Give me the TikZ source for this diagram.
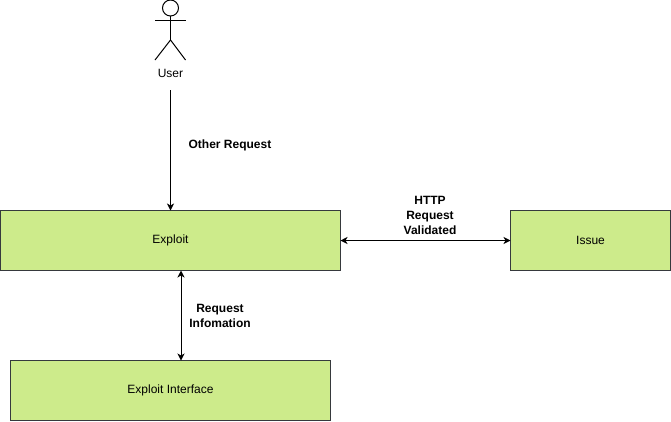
\documentclass[tikz,border=0pt]{standalone}
\usepackage{fontspec}
\setmainfont{Liberation Sans}
\usepackage{xcolor}
\usetikzlibrary{arrows.meta,calc,positioning}
\definecolor{boxfill}{HTML}{CDEB8B}
\definecolor{boxline}{HTML}{36393D}
\tikzset{
	usecase diagram/.style={
		x=1pt, y=-1pt,
		line width=1pt,
		font=\fontsize{12}{15}\selectfont,
		>={Stealth[length=7pt,width=7pt,inset=2pt]},
		node distance=170pt},
	block/.style={draw=boxline, fill=boxfill, minimum height=60pt, outer sep=0pt, inner sep=0pt},
	wire label/.style={font=\fontsize{12}{15}\selectfont\bfseries, align=center, inner sep=0pt}
}

\begin{document}
\begin{tikzpicture}[usecase diagram]
    \useasboundingbox (0,0) rectangle (671,421);
    \node[block, minimum width=340pt, anchor=north west] (Exploit) at (0.5,210.5) {Exploit};
    \node[block, minimum width=160pt, right=of Exploit] (Issue) {Issue};
    \node[block, minimum width=320pt, below=90pt of Exploit] (Interface) {Exploit Interface};
    % stick figure
    \draw (170.5,8) circle[radius=8];
    \draw (155,20) -- (185.5,20);
    \draw (170.5,16) -- (170.5,40);
    \draw (155,60) -- (170.5,40) -- (185.5,60);
    \node[inner sep=0pt] (User) at (170.5,73.5) {User};
    \coordinate[below=12pt of User] (UserOut);
    \draw[->] (UserOut) -- (Exploit.north);
    \draw[<->] (Exploit.east) -- (Issue.west);
    \draw[<->] ([xshift=10.5pt]Exploit.south) -- ([xshift=10.5pt]Interface.north);
    \node[wire label] (OtherLbl) at (230,145.5) {Other Request};
    \node[wire label] (HttpLbl) at (430,215) {HTTP\\Request\\Validated};
    \node[wire label] (InfoLbl) at (220,315.5) {Request\\Infomation};
\end{tikzpicture}
\end{document}
